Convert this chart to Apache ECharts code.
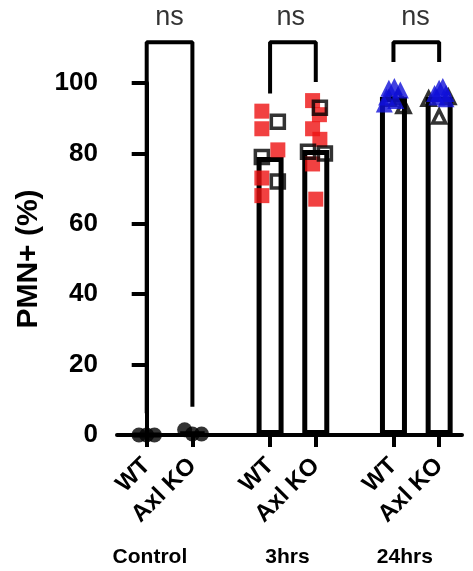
<!DOCTYPE html>
<html><head><meta charset="utf-8">
<script src="https://cdn.jsdelivr.net/npm/echarts@6/dist/echarts.min.js"></script>
<style>html,body{margin:0;padding:0;background:#fff}#c{width:473px;height:571px}</style>
</head><body><div id="c"></div>
<script>
// ---- data ----
const conditions = ['WT', 'Axl KO', 'WT', 'Axl KO', 'WT', 'Axl KO'];
const positions = [0, 1, 2.7, 3.7, 5.4, 6.4];
const groups = ['Control', '3hrs', '24hrs'];
const groupLabelPos = [0.07, 3.08, 5.65];
const yTicks = [0, 20, 40, 60, 80, 100];
const barMeans = [0, 0.7, 79, 81, 96, 96];
const controlPts = [[-0.17, 0], [0, 0], [0.17, 0], [0.83, 1.5], [1.0, 0.3], [1.2, 0.3]];
const hrs3Red = [[2.52, 92], [2.52, 87], [2.87, 81], [2.52, 73], [2.52, 68],
                 [3.63, 95], [3.78, 91], [3.63, 87], [3.79, 84], [3.63, 77], [3.7, 67]];
const hrs3Open = [[2.87, 89], [2.52, 79], [2.87, 72],
                  [3.79, 93], [3.53, 80.5], [3.9, 80]];
const hrs24Blue = [[5.2, 94], [5.3, 98.5], [5.42, 99], [5.55, 98], [5.25, 96], [5.45, 95],
                   [6.3, 97], [6.4, 98.5], [6.48, 99], [6.55, 97], [6.35, 96], [6.55, 95.5]];
const hrs24Open = [[5.62, 93.5], [5.3, 95.5], [5.5, 96],
                   [6.4, 90.5], [6.17, 95.5], [6.6, 96]];
const brackets = [
  [[0, 6.2], [0, 111.6], [1, 111.6], [1, 8]],
  [[2.7, 97], [2.7, 111.6], [3.7, 111.6], [3.7, 100.3]],
  [[5.4, 106], [5.4, 111.6], [6.4, 111.6], [6.4, 106]]
];
const sigLabels = ['ns', 'ns', 'ns'];
const sigPos = [[0.5, 118.5], [3.15, 118.5], [5.88, 118.5]];

// ---- chart ----
const FONT = 'Liberation Sans, Arial, sans-serif';
const chart = echarts.init(document.getElementById('c'), null, {renderer: 'canvas'});
const series = [];
series.push({
  type: 'bar', xAxisIndex: 0, yAxisIndex: 0, barWidth: 27,
  data: positions.map((p, i) => [p, barMeans[i]]),
  itemStyle: {color: '#fff', borderColor: '#000', borderWidth: 5},
  silent: true
});
series.push({type: 'scatter', data: controlPts, symbol: 'circle', symbolSize: 15,
  itemStyle: {color: '#000'}, clip: false, silent: true});
series.push({type: 'scatter', data: hrs3Red, symbol: 'rect', symbolSize: 15,
  itemStyle: {color: '#ee1111'}, clip: false, silent: true});
series.push({type: 'scatter', data: hrs3Open, symbol: 'rect', symbolSize: 13,
  itemStyle: {color: 'rgba(0,0,0,0)', borderColor: '#000', borderWidth: 3.5}, clip: false, silent: true});
series.push({type: 'scatter', data: hrs24Open, symbol: 'triangle', symbolSize: 13,
  itemStyle: {color: 'rgba(0,0,0,0)', borderColor: '#000', borderWidth: 3.5}, clip: false, silent: true});
series.push({type: 'scatter', data: hrs24Blue, symbol: 'triangle', symbolSize: 17,
  itemStyle: {color: '#1010d8'}, clip: false, silent: true});
brackets.forEach(b => series.push({type: 'line', data: b, symbol: 'none', clip: false,
  lineStyle: {color: '#000', width: 4}, silent: true}));
series.push({type: 'scatter', data: sigPos, symbol: 'circle', symbolSize: 1, clip: false,
  itemStyle: {color: 'rgba(0,0,0,0)'}, silent: true,
  label: {show: true, position: 'inside', formatter: p => sigLabels[p.dataIndex],
    color: '#000', fontSize: 27, fontFamily: FONT}});

chart.setOption({
  animation: false,
  backgroundColor: '#fff',
  grid: {left: 117, right: 11, top: 83, bottom: 136},
  xAxis: [{
    type: 'value', min: -0.65, max: 6.9, position: 'bottom',
    axisLine: {show: true, onZero: false, lineStyle: {color: '#000', width: 4}},
    axisTick: {show: true, customValues: positions, length: 12, lineStyle: {color: '#000', width: 4}},
    axisLabel: {show: true, customValues: positions, rotate: 45, margin: 27,
      formatter: v => conditions[positions.indexOf(v)] || '',
      color: '#000', fontSize: 24, fontWeight: 'bold', fontFamily: FONT},
    splitLine: {show: false}
  }, {
    type: 'value', min: -0.65, max: 6.9, position: 'bottom',
    axisLine: {show: false}, axisTick: {show: false}, splitLine: {show: false},
    axisLabel: {show: true, customValues: groupLabelPos, margin: 112,
      formatter: v => groups[groupLabelPos.indexOf(v)] || '',
      color: '#000', fontSize: 21, fontWeight: 'bold', fontFamily: FONT}
  }],
  yAxis: {
    type: 'value', min: 0, max: 100, interval: 20,
    name: 'PMN+ (%)', nameLocation: 'middle', nameGap: 68, nameRotate: 90,
    nameTextStyle: {color: '#000', fontSize: 30, fontWeight: 'bold', fontFamily: FONT},
    axisLine: {show: true, lineStyle: {color: '#000', width: 4}},
    axisTick: {show: true, length: 15, lineStyle: {color: '#000', width: 4}},
    axisLabel: {margin: 19, color: '#000', fontSize: 26, fontWeight: 'bold', fontFamily: FONT,
      formatter: v => yTicks.includes(v) ? String(v) : ''},
    splitLine: {show: false}
  },
  series: series
});
</script></body></html>
